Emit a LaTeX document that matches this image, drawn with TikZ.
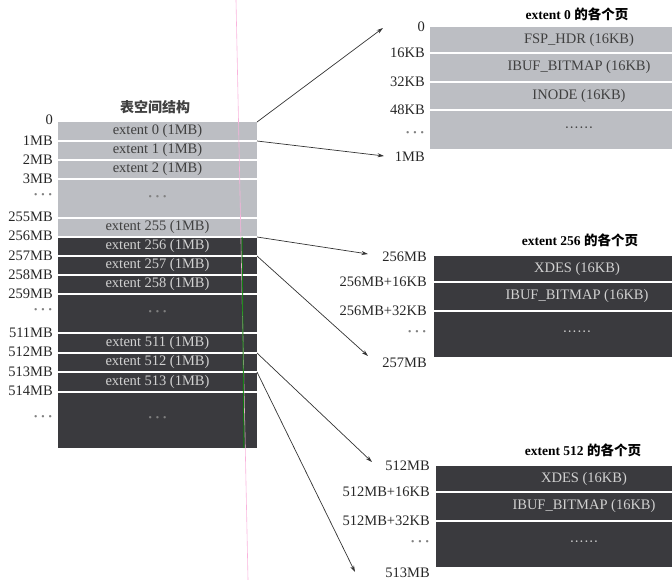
\documentclass[tikz,border=0pt]{standalone}
\usepackage{fontspec}
\setmainfont{Liberation Serif}
\newfontfamily\cjk{Noto Sans CJK SC}
\usetikzlibrary{arrows.meta}
\definecolor{rowlight}{RGB}{188,190,195}
\definecolor{rowdark}{RGB}{58,58,62}
\newcommand\dotlab{{\color{black!50}\bfseries\textperiodcentered\,\textperiodcentered\,\textperiodcentered}}
\newcommand\dotrow{\textperiodcentered\textperiodcentered\textperiodcentered\textperiodcentered\textperiodcentered\textperiodcentered}
\tikzset{
  lrow/.style={fill=rowlight,text=black!75,inner sep=0,outer sep=0},
  drow/.style={fill=rowdark,text=black!18,inner sep=0,outer sep=0},
  sepline/.style={white,line width=1.1pt},
  lbl/.style={anchor=east,inner sep=0,text=black!85},
  ptr/.style={-{Stealth[length=6.5pt,width=4pt]},line width=0.7pt,black!80},
  ttl/.style={inner sep=0,font=\fontsize{13.5}{16}\selectfont\bfseries}
}

\begin{document}
\begin{tikzpicture}[x=1pt,y=-1pt,font=\fontsize{14.5}{16}\selectfont]
\useasboundingbox (0,0) rectangle (672,580);
\clip (0,0) rectangle (672,580);
% left: tablespace
\node[ttl,font=\fontsize{14}{16}\selectfont\bfseries\cjk,text=black!75] (tsp) at (155,107) {表空间结构};
\foreach \nm/\st/\yc/\hh/\txt in {e0/lrow/131.5/19/extent 0 (1MB), e1/lrow/150.5/19/extent 1 (1MB),
  e2/lrow/169.5/19/extent 2 (1MB), d1/lrow/198.5/39/\dotlab, e255/lrow/227.5/19/extent 255 (1MB),
  e256/drow/246.5/19/extent 256 (1MB), e257/drow/265.5/19/extent 257 (1MB), e258/drow/284.5/19/extent 258 (1MB),
  d2/drow/313.5/39/\dotlab, e511/drow/343/20/extent 511 (1MB), e512/drow/362.5/19/extent 512 (1MB),
  e513/drow/382/20/extent 513 (1MB), d3/drow/420/56/\dotlab}
  \node[\st,minimum width=199pt,minimum height=\hh pt] (\nm) at (157.5,\yc) {\txt};
\foreach \r in {e0,e1,e2,d1,e255,e256,e257,e258,d2,e511,e512,e513}
  \draw[sepline] (\r.south west) -- (\r.south east);
\foreach \yy/\tt in {120/0,141/1MB,160/2MB,179/3MB,197/\dotlab,217/255MB,236/256MB,256/257MB,
  275/258MB,294/259MB,312/\dotlab,333/511MB,352/512MB,372/513MB,391/514MB,419/\dotlab}
  \node[lbl] (l\yy) at (53,\yy) {\tt};
% scan lines
\draw[magenta!30,line width=0.6pt] (236,0) -- (248,580);
\draw[green!55!black,line width=1pt,opacity=0.8] (242,237) -- (244,448);
% extent 0 pages
\node[ttl] (t0) at (577,14) {extent 0 {\cjk 的各个页}};
\foreach \nm/\yc/\hh/\txt in {p0a/40/26/FSP\_HDR (16KB), p0b/67.5/29/IBUF\_BITMAP (16KB),
  p0c/96/28/INODE (16KB), p0d/129.5/39/\dotrow}
  \node[lrow,minimum width=298pt,minimum height=\hh pt] (\nm) at (579,\yc) {\txt};
\foreach \yy/\tt in {27/0,53/16KB,82/32KB,110/48KB,135/\dotlab,157/1MB}
  \node[lbl] (m\yy) at (425,\yy) {\tt};
% extent 256 pages
\node[ttl] (t256) at (580,240) {extent 256 {\cjk 的各个页}};
\foreach \nm/\yc/\hh/\txt in {p1a/269/26/XDES (16KB), p1b/296.5/29/IBUF\_BITMAP (16KB), p1c/334/46/\dotrow}
  \node[drow,minimum width=286pt,minimum height=\hh pt] (\nm) at (577,\yc) {\txt};
\foreach \yy/\tt in {257/256MB,282/256MB+16KB,311/256MB+32KB,334/\dotlab,363/257MB}
  \node[lbl] (n\yy) at (427,\yy) {\tt};
% extent 512 pages
\node[ttl] (t512) at (583,450) {extent 512 {\cjk 的各个页}};
\foreach \nm/\yc/\hh/\txt in {p2a/479/26/XDES (16KB), p2b/506.5/29/IBUF\_BITMAP (16KB), p2c/544/46/\dotrow}
  \node[drow,minimum width=296pt,minimum height=\hh pt] (\nm) at (584,\yc) {\txt};
\foreach \yy/\tt in {466/512MB,492/512MB+16KB,521/512MB+32KB,544/\dotlab,573/513MB}
  \node[lbl] (o\yy) at (430,\yy) {\tt};
\foreach \r in {p0a,p0b,p0c,p1a,p1b,p2a,p2b}
  \draw[sepline] (\r.south west) -- (\r.south east);
% pointers
\coordinate (a0) at (383,28);
\coordinate (b0) at (384,156);
\coordinate (a1) at (368,254);
\coordinate (b1) at (368,356);
\coordinate (a2) at (372,462);
\coordinate (b2) at (355,572);
\draw[ptr] (e0.north east) -- (a0);
\draw[ptr] (e0.south east) -- (b0);
\draw[ptr] (e256.north east) -- (a1);
\draw[ptr] (e256.south east) -- (b1);
\draw[ptr] (e512.north east) -- (a2);
\draw[ptr] (e512.south east) -- (b2);
\end{tikzpicture}
\end{document}
